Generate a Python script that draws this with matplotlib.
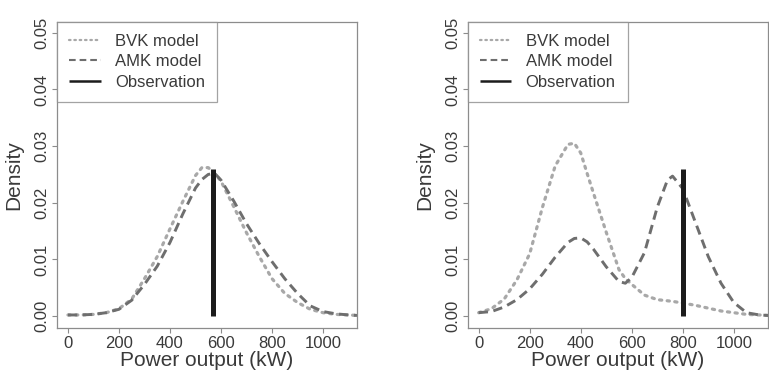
import matplotlib
matplotlib.use("Agg")
import matplotlib.pyplot as plt

plt.rcParams["font.family"] = ["Liberation Sans", "DejaVu Sans"]

# left panel: both models near the observation
x_left = [0, 50, 100, 150, 200, 250, 300, 350, 400, 450, 500, 525, 550, 575, 600,
          650, 700, 750, 800, 850, 900, 950, 1000, 1050, 1100, 1140]
bvk_left = [0.0002, 0.0002, 0.0003, 0.0006, 0.0013, 0.0030, 0.0066, 0.0105, 0.0154,
            0.0202, 0.0248, 0.0262, 0.0262, 0.0252, 0.0238, 0.0193, 0.0147, 0.0105,
            0.0066, 0.0040, 0.0024, 0.0012, 0.0006, 0.0003, 0.0002, 0.0001]
amk_left = [0.0002, 0.0002, 0.0003, 0.0006, 0.0012, 0.0028, 0.0056, 0.0088, 0.0130,
            0.0180, 0.0226, 0.0241, 0.0250, 0.0252, 0.0240, 0.0203, 0.0163, 0.0128,
            0.0096, 0.0066, 0.0040, 0.0018, 0.0008, 0.0004, 0.0002, 0.0001]
obs_left = 570

# right panel: bimodal AMK vs unimodal BVK
x_right = [0, 50, 100, 150, 200, 250, 300, 350, 375, 400, 425, 450, 500, 550, 575,
           600, 650, 700, 740, 760, 800, 850, 900, 950, 1000, 1050, 1100, 1140]
bvk_right = [0.0006, 0.0013, 0.0030, 0.0064, 0.0110, 0.0192, 0.0265, 0.0303, 0.0305,
             0.0288, 0.0252, 0.0217, 0.0148, 0.0082, 0.0066, 0.0056, 0.0037, 0.0029,
             0.0027, 0.0026, 0.0023, 0.0019, 0.0014, 0.0009, 0.0006, 0.0003, 0.0002,
             0.0001]
amk_right = [0.0006, 0.0008, 0.0016, 0.0029, 0.0048, 0.0074, 0.0104, 0.0130, 0.0137,
             0.0138, 0.0131, 0.0118, 0.0087, 0.0061, 0.0058, 0.0068, 0.0112, 0.0192,
             0.0240, 0.0247, 0.0225, 0.0165, 0.0105, 0.0058, 0.0024, 0.0006, 0.0002,
             0.0001]
obs_right = 800
obs_height = 0.026

GRAY = "#8c8c8c"
TEXT = "#3a3a3a"

fig = plt.figure(figsize=(7.69, 3.79), dpi=100)
ax1 = fig.add_axes([0.0741, 0.1346, 0.3901, 0.8074])
ax2 = fig.add_axes([0.6082, 0.1346, 0.3901, 0.8074])

panels = [
    (ax1, x_left, bvk_left, amk_left, obs_left),
    (ax2, x_right, bvk_right, amk_right, obs_right),
]

for ax, xs, bvk, amk, obs in panels:
    ax.plot(xs, bvk, color="#a8a8a8", lw=2.3, linestyle=(0, (0.7, 1.7)),
            dash_capstyle="round", label="BVK model")
    ax.plot(xs, amk, color="#6e6e6e", lw=2.1, linestyle=(0, (3.2, 1.9)),
            label="AMK model")
    ax.vlines(obs, 0, obs_height, color="#1c1c1c", lw=3.6, label="Observation")

    ax.set_xlim(-43, 1133)
    ax.set_ylim(-0.0021, 0.0519)
    ax.set_xticks([0, 200, 400, 600, 800, 1000])
    ax.set_yticks([0.00, 0.01, 0.02, 0.03, 0.04, 0.05])
    ax.set_yticklabels(["0.00", "0.01", "0.02", "0.03", "0.04", "0.05"],
                       rotation=90, va="center")
    ax.tick_params(direction="out", length=3.6, width=0.8, color=GRAY,
                   labelsize=12, labelcolor=TEXT, pad=2)
    for sp in ax.spines.values():
        sp.set_color(GRAY)
        sp.set_linewidth(0.9)

    ax.set_xlabel("Power output (kW)", fontsize=15, color=TEXT, labelpad=0)
    ax.set_ylabel("Density", fontsize=15, color=TEXT)
    ax.yaxis.set_label_coords(-0.112, 0.5)

    leg = ax.legend(loc="upper left", fontsize=12, frameon=True, fancybox=False,
                    borderaxespad=0, handlelength=1.9, handletextpad=0.85,
                    labelspacing=0.32, borderpad=0.72)
    leg.get_frame().set_edgecolor(GRAY)
    leg.get_frame().set_linewidth(0.9)
    leg.legend_handles[0].set_linewidth(1.6)
    leg.legend_handles[1].set_linewidth(1.5)
    leg.legend_handles[2].set_linewidth(1.8)
    for t in leg.get_texts():
        t.set_color(TEXT)

fig.savefig("out.png", dpi=100)
